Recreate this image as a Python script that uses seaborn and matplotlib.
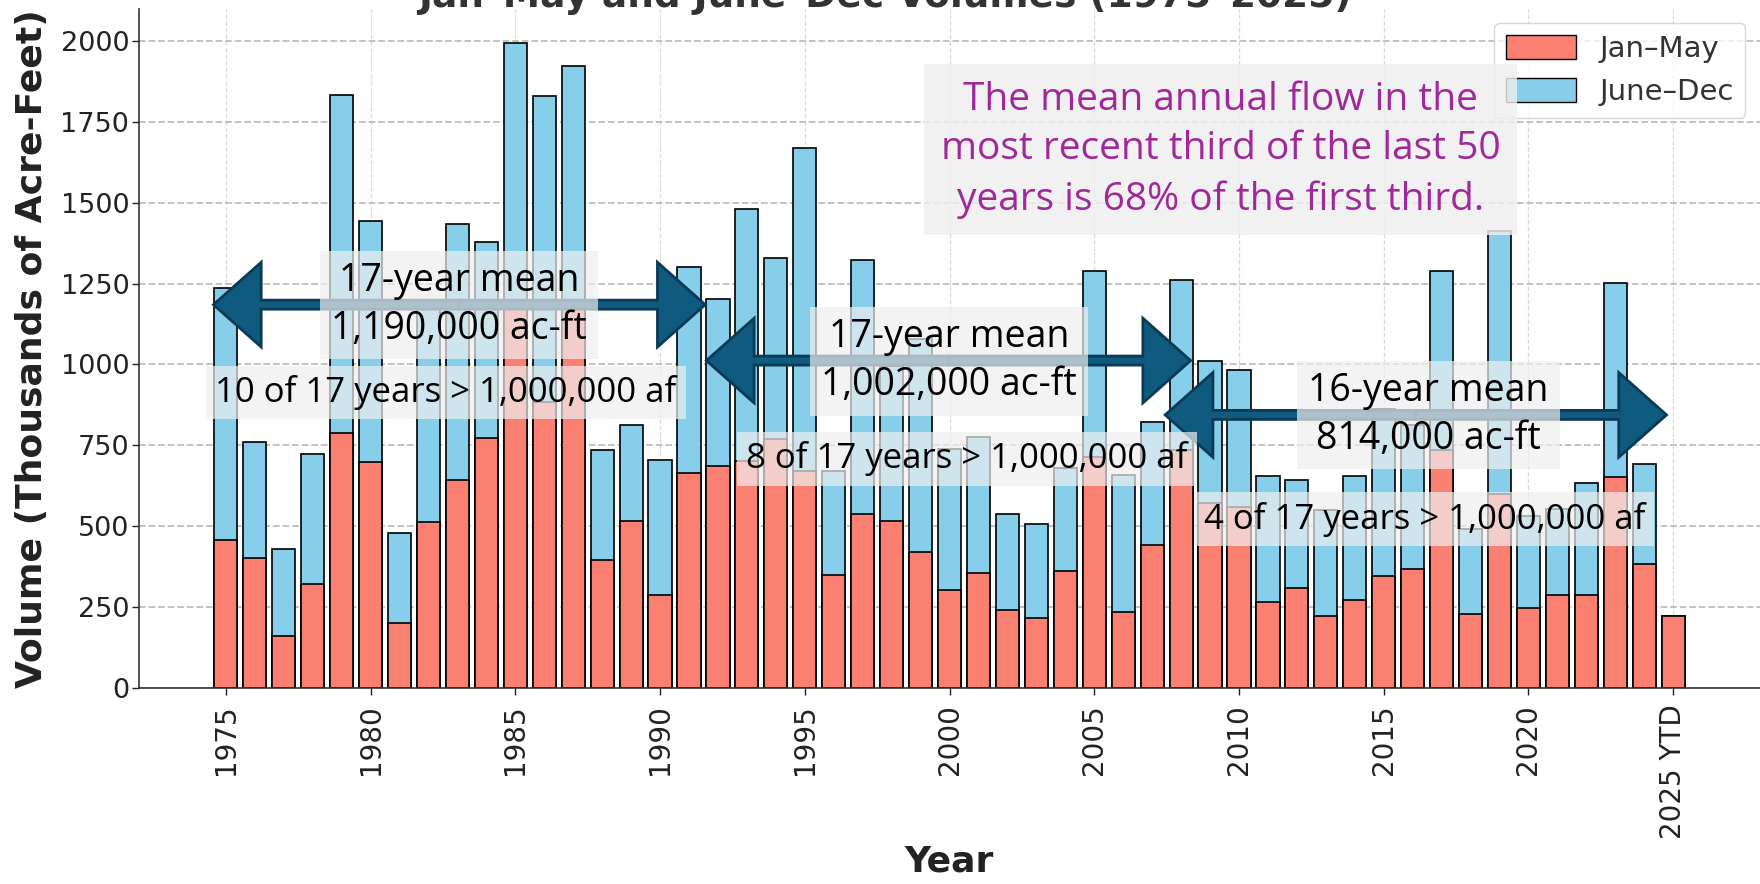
import matplotlib
matplotlib.use("Agg")
import matplotlib.pyplot as plt
import seaborn as sns
import pandas as pd
from matplotlib.patches import FancyArrow, Patch

# data (thousands of acre-feet)
years = list(range(1975, 2026))
year_labels = [str(y) for y in years[:-1]] + ["2025 YTD"]

jan_may = [458, 400, 159, 320, 789, 697, 199, 513, 644, 772,
           1175, 885, 1175, 396, 516, 288, 665, 686, 700, 768,
           672, 350, 537, 516, 421, 302, 354, 241, 217, 361,
           714, 234, 441, 734, 570, 558, 265, 309, 221, 272,
           345, 366, 734, 228, 599, 248, 288, 288, 651, 382,
           221]
jun_dec = [779, 361, 271, 404, 1045, 746, 281, 667, 790, 606,
           818, 945, 748, 338, 296, 415, 637, 517, 781, 562,
           997, 322, 787, 479, 659, 435, 421, 297, 288, 318,
           576, 424, 382, 528, 440, 424, 389, 334, 330, 383,
           517, 446, 554, 262, 815, 283, 266, 346, 601, 310,
           0]

df = pd.DataFrame({"year": year_labels, "jan_may": jan_may, "jun_dec": jun_dec})
df["total"] = df["jan_may"] + df["jun_dec"]

# annotation texts
period_means = ["17-year mean\n1,190,000 ac-ft",
                "17-year mean\n1,002,000 ac-ft",
                "16-year mean\n814,000 ac-ft"]
period_counts = ["10 of 17 years > 1,000,000 af",
                 "8 of 17 years > 1,000,000 af",
                 "4 of 17 years > 1,000,000 af"]
summary = ("The mean annual flow in the\nmost recent third of the last 50\n"
           "years is 68% of the first third.")

sns.set_style("ticks")
plt.rcParams["font.family"] = ["DejaVu Sans"]

fig, ax = plt.subplots(figsize=(17.6, 8.84), dpi=100)
fig.subplots_adjust(left=0.079, right=1.0, bottom=0.222, top=0.99)

# stacked bars: total (June-Dec on top) then Jan-May over it
sns.barplot(data=df, x="year", y="total", color="skyblue", saturation=1,
            edgecolor="black", linewidth=1.2, errorbar=None, ax=ax)
sns.barplot(data=df, x="year", y="jan_may", color="salmon", saturation=1,
            edgecolor="black", linewidth=1.2, errorbar=None, ax=ax)

ax.set_xlim(-3, 53)
ax.set_ylim(0, 2100)
ax.set_yticks(range(0, 2001, 250))
tick_pos = list(range(0, 51, 5))
ax.set_xticks(tick_pos)
ax.set_xticklabels([year_labels[i] for i in tick_pos], rotation=90)
ax.tick_params(axis="both", length=5, width=1, colors="#222222")
ax.tick_params(axis="y", labelsize=19.5, pad=2)
ax.tick_params(axis="x", labelsize=20, pad=7)

ax.set_axisbelow(True)
ax.yaxis.grid(True, linestyle="--", color="#bdbdbd", linewidth=1.3)
ax.xaxis.grid(True, linestyle="--", color="#d9d9d9", linewidth=0.9)
sns.despine(ax=ax)
for s in ["left", "bottom"]:
    ax.spines[s].set_color("#333333")
    ax.spines[s].set_linewidth(1.2)

ax.set_xlabel("Year", fontsize=26, fontweight="bold", labelpad=4, color="#222222")
ax.set_ylabel("Volume (Thousands of Acre-Feet)", fontsize=26, fontweight="bold",
              labelpad=8, color="#222222")

fig.text(0.503, 1 - 7 / 884, "Jan–May and June–Dec Volumes (1975–2025)",
         ha="center", va="baseline", fontsize=27, fontweight="bold", color="#333333")

leg = ax.legend(handles=[Patch(fc="salmon", ec="black", label="Jan–May"),
                         Patch(fc="skyblue", ec="black", label="June–Dec")],
                loc="upper right", fontsize=21, handlelength=2.4, handleheight=0.9,
                framealpha=0.8, edgecolor="#cccccc", borderaxespad=0.5)
for t in leg.get_texts():
    t.set_color("#333333")


def double_arrow(x0, x1, y):
    xm = (x0 + x1) / 2
    for tip in (x0, x1):
        ax.add_patch(FancyArrow(xm, y, tip - xm, 0, width=28, head_width=262,
                                head_length=1.65, length_includes_head=True,
                                fc="#0f5a7f", ec="#0a3a56", lw=2, zorder=4))


arrows = [(-0.43, 16.56, 1185), (16.6, 33.33, 1012), (32.45, 49.77, 844)]
mean_pos = [(8.05, 1184), (24.98, 1010), (41.55, 844)]
count_pos = [(7.6, 913), (25.6, 708), (41.4, 521)]

for (x0, x1, y) in arrows:
    double_arrow(x0, x1, y)
for (x, y), s in zip(mean_pos, period_means):
    ax.text(x, y, s, ha="center", va="center", fontsize=27, family="Open Sans",
            color="black", linespacing=1.35, zorder=5,
            bbox=dict(boxstyle="square,pad=0.3", fc="#efefef", ec="none", alpha=0.7))
for (x, y), s in zip(count_pos, period_counts):
    ax.text(x, y, s, ha="center", va="center", fontsize=25, family="Open Sans",
            color="black", zorder=5,
            bbox=dict(boxstyle="square,pad=0.27", fc="#efefef", ec="none", alpha=0.7))

ax.text(34.36, 1664, summary, ha="center", va="center", fontsize=28,
        family="Open Sans", color="#a0289a", linespacing=1.4,
        bbox=dict(boxstyle="square,pad=0.42", fc="#efefef", ec="none", alpha=0.82),
        zorder=6)

fig.savefig("out.png", dpi=100)
